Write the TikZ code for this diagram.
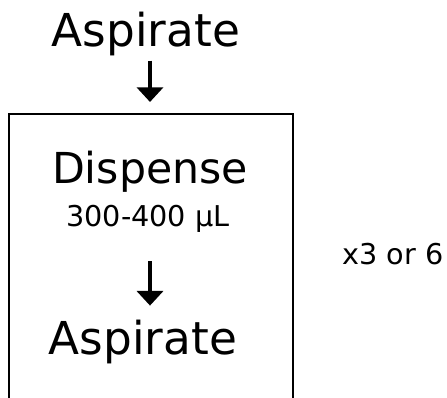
\documentclass[tikz,border=0pt]{standalone}
\usepackage{fontspec}
\setmainfont{DejaVu Sans}
\usetikzlibrary{arrows.meta}

\tikzset{
	step label/.style={anchor=base, inner sep=0pt, font=\fontsize{34}{40}\selectfont},
	small label/.style={anchor=base, inner sep=0pt, font=\fontsize{21.5}{26}\selectfont},
	flow/.style={line width=3.4pt, -{Triangle[width=19.5pt,length=11pt]}},
}

\begin{document}
\begin{tikzpicture}[x=0.75pt, y=-0.75pt]
\useasboundingbox (0,0) rectangle (447,398);
\node[step label] (aspTop) at (146,47) {Aspirate};
\node[step label, font=\fontsize{32}{38}\selectfont] (dispense) at (150,184) {Dispense};
\node[small label] (volume) at (148,227) {300-400 µL};
\node[step label] (aspBot) at (143,355) {Aspirate};
\node[small label, font=\fontsize{21.5}{26}\selectfont] (repeat) at (393,265) {x3 or 6};
% loop box, open at the bottom
\draw[line width=1.2pt] (9,398) -- (9,114) -- (293,114) -- (293,398);
\coordinate (out1) at (150,102);
\draw[flow, shorten <=3pt] (aspTop.south -| out1) -- (out1);
\draw[flow, shorten <=21pt, shorten >=11pt] (volume.south -| out1) -- (aspBot.north -| out1);
\end{tikzpicture}
\end{document}
